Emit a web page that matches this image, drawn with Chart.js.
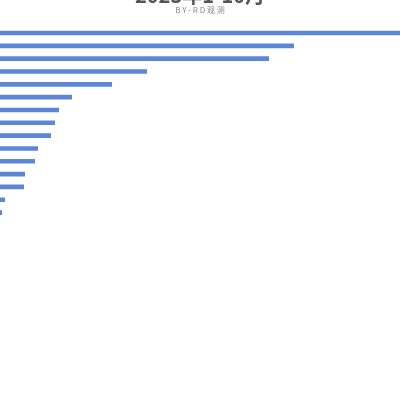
<!DOCTYPE html>
<html>
<head>
<meta charset="utf-8">
<script src="https://cdn.jsdelivr.net/npm/chart.js@4/dist/chart.umd.min.js"></script>
<style>
  html, body { margin: 0; padding: 0; background: #fff; }
  #wrap { width: 400px; height: 400px; overflow: hidden; position: relative; }
  #wrap canvas { position: absolute; top: -17px; left: 0; }
</style>
</head>
<body>
<div id="wrap"><canvas id="chart" width="400" height="417"></canvas></div>
<script>
// -------------------------------------------- data
const categories = ['A', 'B', 'C', 'D', 'E', 'F', 'G', 'H', 'I', 'J', 'K', 'L', 'M', 'N', 'O'];
const values = [400, 294, 269, 147, 112, 72, 59, 55, 51, 38, 35, 25, 24, 5, 2];
const titleText = '2023年1-10月';
const subtitleText = 'B Y - R D 观 测';

// -------------------------------------------- bar chart
const ctx = document.querySelector('#chart').getContext('2d');
const barChart = new Chart(ctx, {
    type: 'bar',
    data: {
        labels: categories,
        datasets: [{
            data: values,
            backgroundColor: '#5b87d6',
            barPercentage: 0.36,
            categoryPercentage: 1,
        }]
    },
    options: {
        indexAxis: 'y',
        responsive: false,
        animation: false,
        layout: {
            padding: { top: 0, left: 0, right: 0, bottom: 181 }
        },
        plugins: {
            legend: { display: false },
            tooltip: { enabled: false },
            title: {
                display: true,
                text: titleText,
                color: '#555',
                font: { size: 20, weight: 'bold', family: 'Noto Sans CJK SC' },
                padding: { top: 0, bottom: -2 },
            },
            subtitle: {
                display: true,
                text: subtitleText,
                color: '#888',
                font: { size: 8, family: 'Noto Sans CJK SC' },
                padding: { top: 0, bottom: 12 },
            }
        },
        scales: {
            x: { display: false, min: 0, max: 400 },
            y: { display: false }
        }
    }
});
</script>
</body>
</html>
